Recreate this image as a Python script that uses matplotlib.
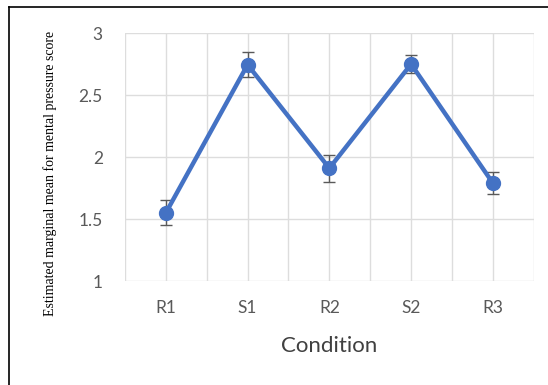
import matplotlib
matplotlib.use("Agg")
import matplotlib.pyplot as plt
from matplotlib.lines import Line2D

conditions = ["R1", "S1", "R2", "S2", "R3"]
means = [1.55, 2.745, 1.91, 2.75, 1.79]
errors = [0.10, 0.10, 0.11, 0.07, 0.09]
y_ticks = [1, 1.5, 2, 2.5, 3]
y_tick_labels = ["1", "1.5", "2", "2.5", "3"]

fig = plt.figure(figsize=(5.48, 3.85), dpi=100)
ax = fig.add_axes([0.228, 0.270, 0.746, 0.644])

x = list(range(len(conditions)))
ax.errorbar(x, means, yerr=errors, fmt="none", ecolor="#595959",
            elinewidth=1.0, capsize=4, capthick=1.0, zorder=2)
ax.plot(x, means, color="#4472C4", lw=3.2, marker="o", markersize=10,
        zorder=3)

ax.set_xlim(-0.5, len(conditions) - 0.5)
ax.set_ylim(1, 3)
ax.set_xticks(x)
ax.set_xticklabels(conditions)
ax.set_xticks([i - 0.5 for i in range(len(conditions) + 1)], minor=True)
ax.set_yticks(y_ticks)
ax.set_yticklabels(y_tick_labels)

ax.grid(True, which="both", color="#DDDDDD", lw=1.0, zorder=0)
ax.set_axisbelow(True)
for s in ax.spines.values():
    s.set_visible(False)
ax.tick_params(which="both", length=0)
ax.tick_params(axis="x", pad=14, labelsize=12.5, labelcolor="#595959")
ax.tick_params(axis="y", pad=16, labelsize=12.5, labelcolor="#595959")
for lab in ax.get_xticklabels() + ax.get_yticklabels():
    lab.set_family("Lato")

ax.set_xlabel("Condition", family="Lato", fontsize=16, color="#404040",
              labelpad=14)
fig.text(0.092, 0.55, "Estimated marginal mean for mental pressure score",
         rotation=90, ha="center", va="center", family="Liberation Serif",
         fontsize=10, color="black")

# outer frame (top and left edges visible)
fig.add_artist(Line2D([9 / 548, 9 / 548], [0, 1 - 7 / 385],
                      color="black", lw=1.2, transform=fig.transFigure))
fig.add_artist(Line2D([9 / 548, 1], [1 - 7 / 385, 1 - 7 / 385],
                      color="black", lw=1.2, transform=fig.transFigure))

fig.savefig("out.png", dpi=100)
